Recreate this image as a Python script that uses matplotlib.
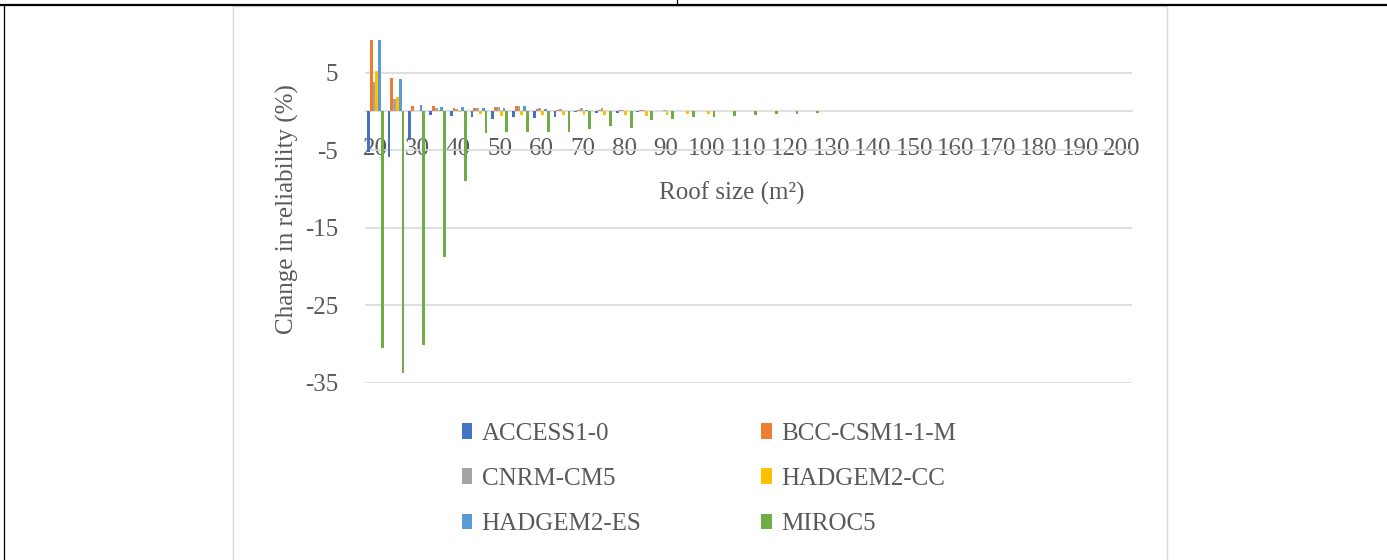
import matplotlib
matplotlib.use("Agg")
import matplotlib.pyplot as plt
from matplotlib.patches import Patch, Rectangle
from matplotlib.lines import Line2D
import numpy as np

# ---------------- data ----------------
roof_sizes = [20, 25, 30, 35, 40, 45, 50, 55, 60, 65, 70, 75, 80, 85, 90, 95, 100,
              105, 110, 115, 120, 125, 130, 135, 140, 145, 150, 155, 160, 165, 170,
              175, 180, 185, 190, 195, 200]

access1_0 = [-5.3, -5.9, -3.7, -0.5, -0.55, -0.73, -0.95, -0.78, -0.86, -0.78, -0.1,
             -0.2, -0.26, -0.15, 0, 0, 0, 0, 0, 0, 0, 0, 0, 0, 0, 0, 0, 0, 0, 0, 0,
             0, 0, 0, 0, 0, 0]
bcc_csm1_1_m = [9.2, 4.3, 0.65, 0.7, 0.43, 0.43, 0.56, 0.65, 0.35, 0.15, 0.15, 0.2,
                0.2, 0.1, 0.05, 0, 0, 0, 0, 0, 0, 0, 0, 0, 0, 0, 0, 0, 0, 0, 0, 0, 0,
                0, 0, 0, 0]
cnrm_cm5 = [3.8, 1.6, 0.05, 0.4, 0.35, 0.43, 0.56, 0.65, 0.43, 0.3, 0.43, 0.43, 0.2,
            0.1, 0.1, 0.05, 0, 0, 0, 0, 0, 0, 0, 0, 0, 0, 0, 0, 0, 0, 0, 0, 0, 0, 0,
            0, 0]
hadgem2_cc = [5.2, 1.9, 0.05, 0.2, -0.15, -0.35, -0.65, -0.43, -0.5, -0.5, -0.5,
              -0.43, -0.5, -0.65, -0.5, -0.35, -0.35, 0, 0, 0, 0, 0, 0, 0, 0, 0, 0,
              0, 0, 0, 0, 0, 0, 0, 0, 0, 0]
hadgem2_es = [9.2, 4.1, 0.86, 0.6, 0.55, 0.43, 0.43, 0.73, 0.26, 0.05, 0.1, 0.05,
              0.05, 0.05, 0, 0, 0, 0, 0, 0, 0, 0, 0, 0, 0, 0, 0, 0, 0, 0, 0, 0, 0, 0,
              0, 0, 0]
miroc5 = [-30.5, -33.8, -30.2, -18.8, -9.0, -2.8, -2.7, -2.7, -2.7, -2.7, -2.3, -1.9,
          -2.1, -1.15, -0.95, -0.78, -0.7, -0.65, -0.5, -0.35, -0.3, -0.2, 0, 0, 0,
          0, 0, 0, 0, 0, 0, 0, 0, 0, 0, 0, 0]

series_names = ["ACCESS1-0", "BCC-CSM1-1-M", "CNRM-CM5", "HADGEM2-CC", "HADGEM2-ES", "MIROC5"]
series_values = [access1_0, bcc_csm1_1_m, cnrm_cm5, hadgem2_cc, hadgem2_es, miroc5]
series_colors = ["#4472C4", "#ED7D31", "#A5A5A5", "#FFC000", "#5B9BD5", "#70AD47"]

y_ticks = [5, -5, -15, -25, -35]
y_tick_labels = ["5", "-5", "-15", "-25", "-35"]

# ---------------- figure ----------------
W, H = 1387, 560
plt.rcParams["font.family"] = ["Liberation Serif", "DejaVu Serif"]
TXT = "#595959"
GRID = "#D9D9D9"
FS = 18

fig = plt.figure(figsize=(W / 100, H / 100), dpi=100)
fig.patch.set_facecolor("white")

ax_left, ax_right = 365, 1132
ax_top, ax_bot = 14.4, 382.5
ax = fig.add_axes([ax_left / W, 1 - ax_bot / H, (ax_right - ax_left) / W, (ax_bot - ax_top) / H])

n = len(roof_sizes)
x = np.arange(n)
bw = 0.135
for k, (vals, col) in enumerate(zip(series_values, series_colors)):
    ax.bar(x + (k - 2.5) * bw, vals, width=bw, color=col, zorder=3, linewidth=0)

ax.set_xlim(-0.5, n - 0.5)
ax.set_ylim(-35, 12.5)

for s in ["top", "right", "left"]:
    ax.spines[s].set_visible(False)
ax.spines["bottom"].set_position(("data", 0))
ax.spines["bottom"].set_color(GRID)
ax.spines["bottom"].set_linewidth(1.2)
ax.spines["bottom"].set_zorder(2)

ax.set_yticks(y_ticks)
ax.set_yticklabels(y_tick_labels)
ax.yaxis.grid(True, color=GRID, linewidth=1.2, zorder=0)
ax.set_axisbelow(True)

tick_idx = list(range(0, n, 2))
ax.set_xticks(tick_idx)
ax.set_xticklabels([str(roof_sizes[i]) for i in tick_idx])

ax.tick_params(axis="x", length=0, pad=19.5, labelsize=FS, labelcolor=TXT)
ax.tick_params(axis="y", length=0, pad=19.5, labelsize=FS, labelcolor=TXT)

fig.text(732 / W, 1 - 193 / H, "Roof size (m²)", ha="center", va="center",
         fontsize=FS, color=TXT)
fig.text(287.5 / W, 1 - 209 / H, "Change in reliability (%)", ha="center", va="center",
         rotation=90, fontsize=FS, color=TXT)

# legend (row-major order as in reference)
order = [0, 2, 4, 1, 3, 5]
handles = [Patch(facecolor=series_colors[i], edgecolor="none") for i in order]
labels = [series_names[i] for i in order]
fig.legend(handles, labels, ncol=2, loc="center",
           bbox_to_anchor=(709 / W, 1 - 479 / H), frameon=False,
           fontsize=FS, labelcolor=TXT, handlelength=0.42, handleheight=0.6,
           handletextpad=0.38, columnspacing=4.8, labelspacing=0.93)

# page decorations: chart area border and table lines
fig.add_artist(Rectangle((233 / W, -0.02), (1167 - 233) / W, (H - 5.5) / H + 0.02,
                         transform=fig.transFigure, fill=False, edgecolor=GRID,
                         linewidth=1.0))
fig.add_artist(Line2D([0, 1], [1 - 4.5 / H, 1 - 4.5 / H], transform=fig.transFigure,
                      color="black", linewidth=1.6))
fig.add_artist(Line2D([3.5 / W, 3.5 / W], [0, 1 - 4.5 / H], transform=fig.transFigure,
                      color="black", linewidth=0.9))
fig.add_artist(Line2D([677 / W, 677 / W], [1 - 4.5 / H, 1], transform=fig.transFigure,
                      color="black", linewidth=0.9))

fig.savefig("out.png", dpi=100, facecolor="white")
